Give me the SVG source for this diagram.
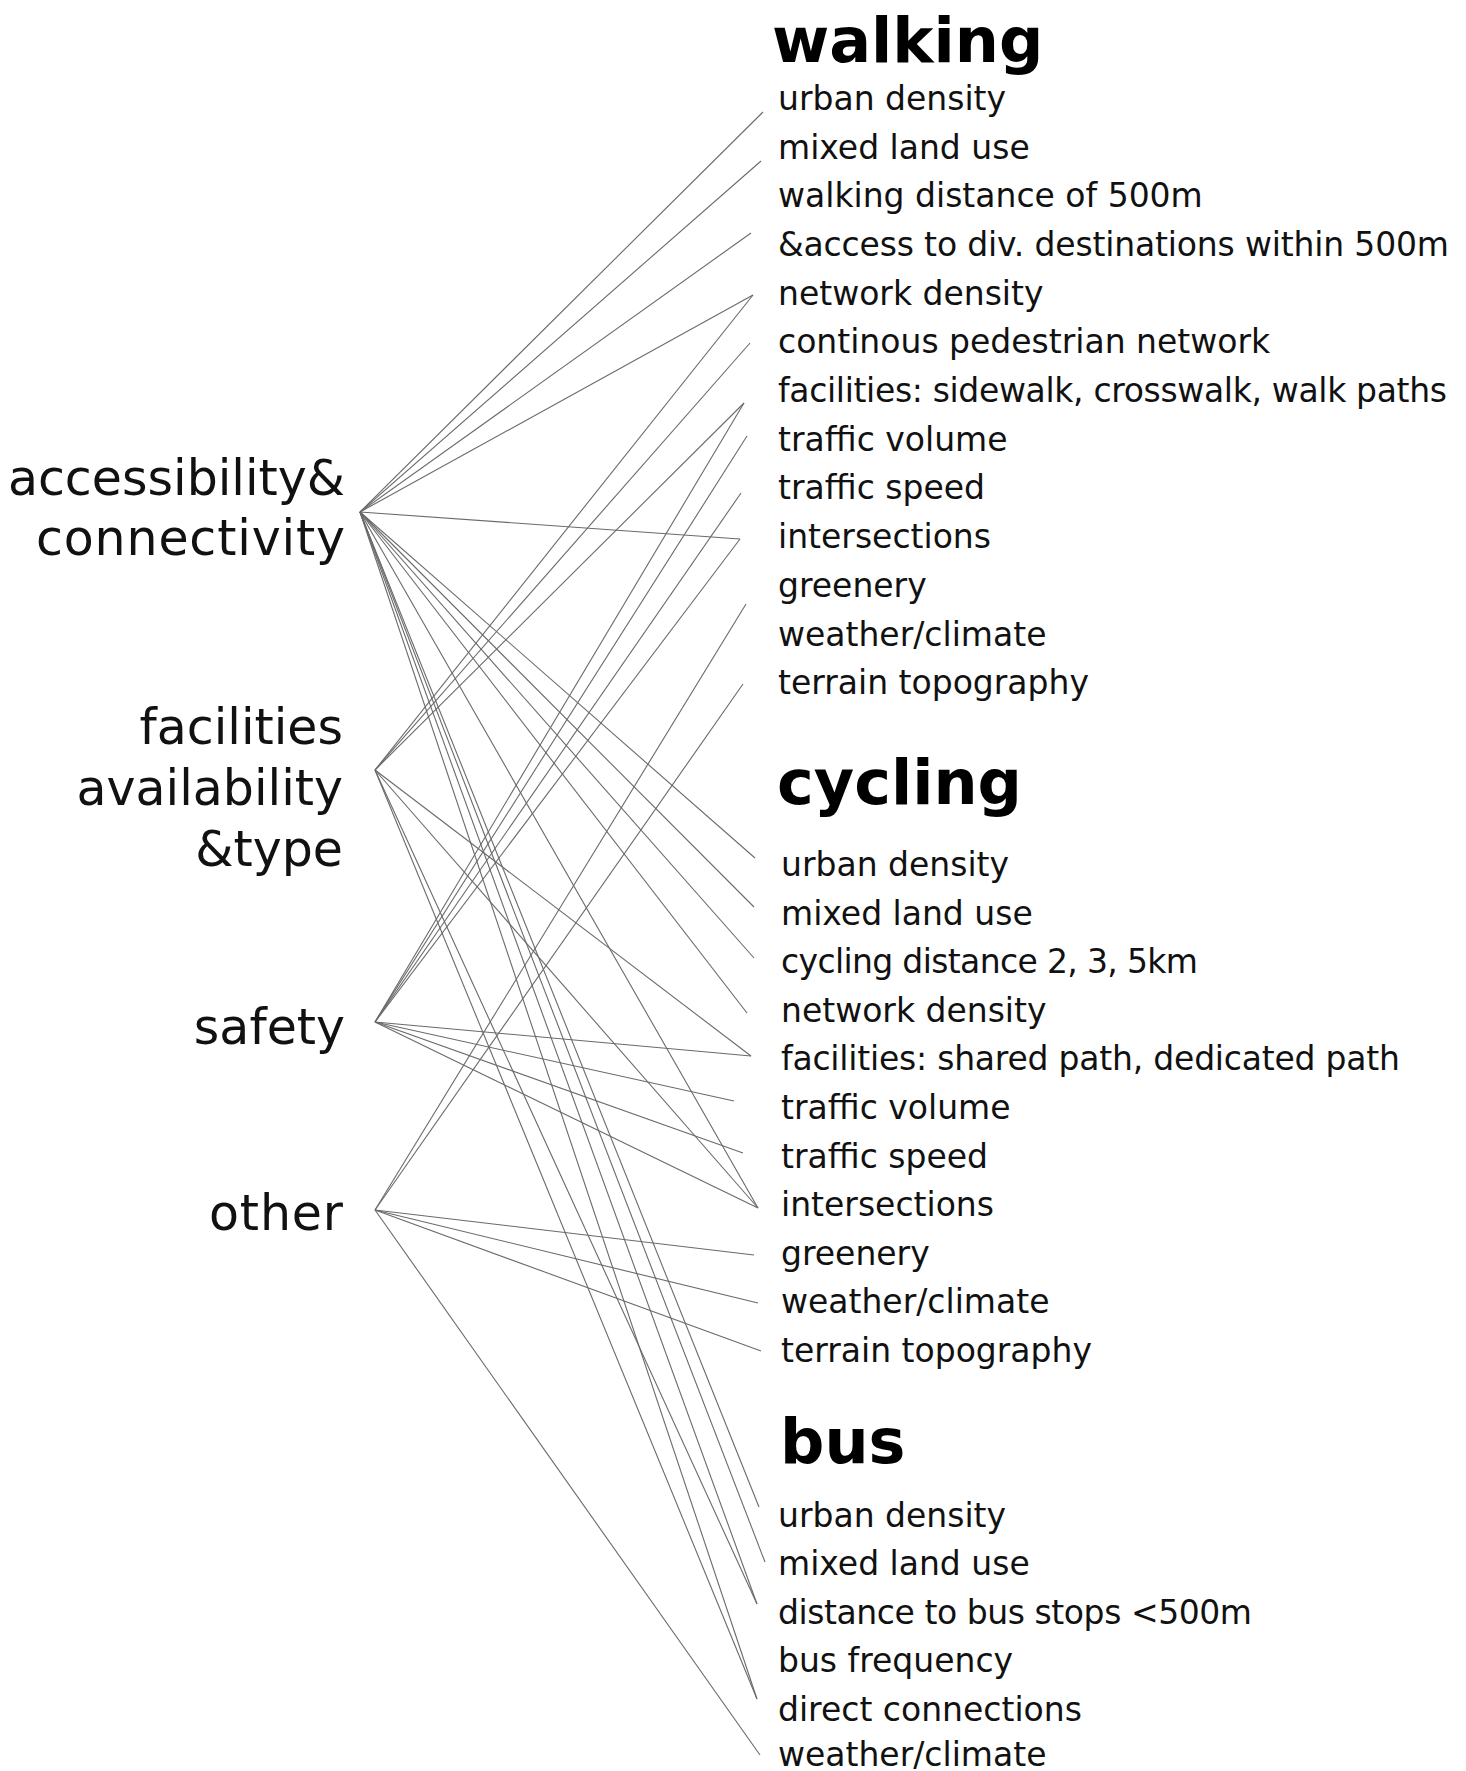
<svg xmlns="http://www.w3.org/2000/svg" width="1466" height="1771" viewBox="0 0 1466 1771">
<style>
.cat{font-family:"DejaVu Sans","Liberation Sans",sans-serif;font-size:49px;fill:#111;text-anchor:end}
.hd{font-family:"DejaVu Sans","Liberation Sans",sans-serif;font-size:62px;font-weight:bold;fill:#000}
.it{font-family:"DejaVu Sans","Liberation Sans",sans-serif;font-size:33px;fill:#111}
.ln line{stroke:#6a6a6a;stroke-width:1.1;fill:none}
</style>
<rect width="1466" height="1771" fill="#fff"/>
<g id="connectors" class="ln">
<!-- accessibility & connectivity -->
<line x1="360" y1="512" x2="763" y2="112"/>
<line x1="360" y1="512" x2="761" y2="161"/>
<line x1="360" y1="512" x2="751" y2="233"/>
<line x1="360" y1="512" x2="753" y2="295"/>
<line x1="360" y1="512" x2="740" y2="539"/>
<line x1="360" y1="512" x2="755" y2="858"/>
<line x1="360" y1="512" x2="754" y2="907"/>
<line x1="360" y1="512" x2="754" y2="958"/>
<line x1="360" y1="512" x2="747" y2="1013"/>
<line x1="360" y1="512" x2="758" y2="1208"/>
<line x1="360" y1="512" x2="759" y2="1507"/>
<line x1="360" y1="512" x2="765" y2="1562"/>
<line x1="360" y1="512" x2="757" y2="1604"/>
<line x1="360" y1="512" x2="757" y2="1699"/>
<!-- facilities -->
<line x1="375" y1="770" x2="753" y2="295"/>
<line x1="375" y1="770" x2="750" y2="343"/>
<line x1="375" y1="770" x2="744" y2="403"/>
<line x1="375" y1="770" x2="751" y2="1056"/>
<line x1="375" y1="770" x2="758" y2="1208"/>
<line x1="375" y1="770" x2="757" y2="1604"/>
<line x1="375" y1="770" x2="757" y2="1699"/>
<!-- safety -->
<line x1="375" y1="1022" x2="744" y2="403"/>
<line x1="375" y1="1022" x2="747" y2="436"/>
<line x1="375" y1="1022" x2="741" y2="493"/>
<line x1="375" y1="1022" x2="740" y2="539"/>
<line x1="375" y1="1022" x2="751" y2="1056"/>
<line x1="375" y1="1022" x2="734" y2="1101"/>
<line x1="375" y1="1022" x2="743" y2="1153"/>
<line x1="375" y1="1022" x2="758" y2="1208"/>
<!-- other -->
<line x1="375" y1="1210" x2="746" y2="604"/>
<line x1="375" y1="1210" x2="743" y2="684"/>
<line x1="375" y1="1210" x2="754" y2="1255"/>
<line x1="375" y1="1210" x2="758" y2="1303"/>
<line x1="375" y1="1210" x2="761" y2="1351"/>
<line x1="375" y1="1210" x2="760" y2="1755"/>
</g>
<g id="cat-access"><text class="cat" x="345" y="495">accessibility&amp;</text><text class="cat" x="345" y="555" textLength="309">connectivity</text></g>
<g id="cat-facilities"><text class="cat" x="343" y="744">facilities</text><text class="cat" x="343" y="805">availability</text><text class="cat" x="343" y="866">&amp;type</text></g>
<g id="cat-safety"><text class="cat" x="345" y="1044">safety</text></g>
<g id="cat-other"><text class="cat" x="343" y="1230" textLength="134">other</text></g>
<g id="walking">
<text class="hd" x="772" y="62">walking</text>
<text class="it" x="778" y="110">urban density</text>
<text class="it" x="778" y="158.7">mixed land use</text>
<text class="it" x="778" y="207.4">walking distance of 500m</text>
<text class="it" x="778" y="256" textLength="671">&amp;access to div. destinations within 500m</text>
<text class="it" x="778" y="304.7">network density</text>
<text class="it" x="778" y="353.4">continous pedestrian network</text>
<text class="it" x="778" y="402.1" textLength="669">facilities: sidewalk, crosswalk, walk paths</text>
<text class="it" x="778" y="450.8">traffic volume</text>
<text class="it" x="778" y="499.4">traffic speed</text>
<text class="it" x="778" y="548.1">intersections</text>
<text class="it" x="778" y="596.8">greenery</text>
<text class="it" x="778" y="645.5">weather/climate</text>
<text class="it" x="778" y="694.2">terrain topography</text>
</g>
<g id="cycling">
<text class="hd" x="777" y="804">cycling</text>
<text class="it" x="781" y="876">urban density</text>
<text class="it" x="781" y="924.6">mixed land use</text>
<text class="it" x="781" y="973.2" textLength="417">cycling distance 2, 3, 5km</text>
<text class="it" x="781" y="1021.8">network density</text>
<text class="it" x="781" y="1070.4" textLength="619">facilities: shared path, dedicated path</text>
<text class="it" x="781" y="1119">traffic volume</text>
<text class="it" x="781" y="1167.6">traffic speed</text>
<text class="it" x="781" y="1216.2">intersections</text>
<text class="it" x="781" y="1264.8">greenery</text>
<text class="it" x="781" y="1313.4">weather/climate</text>
<text class="it" x="781" y="1362">terrain topography</text>
</g>
<g id="bus">
<text class="hd" x="780" y="1463">bus</text>
<text class="it" x="778" y="1527">urban density</text>
<text class="it" x="778" y="1575.4">mixed land use</text>
<text class="it" x="778" y="1623.8" textLength="474">distance to bus stops &lt;500m</text>
<text class="it" x="778" y="1672.2">bus frequency</text>
<text class="it" x="778" y="1720.6">direct connections</text>
<text class="it" x="778" y="1766">weather/climate</text>
</g>
</svg>
